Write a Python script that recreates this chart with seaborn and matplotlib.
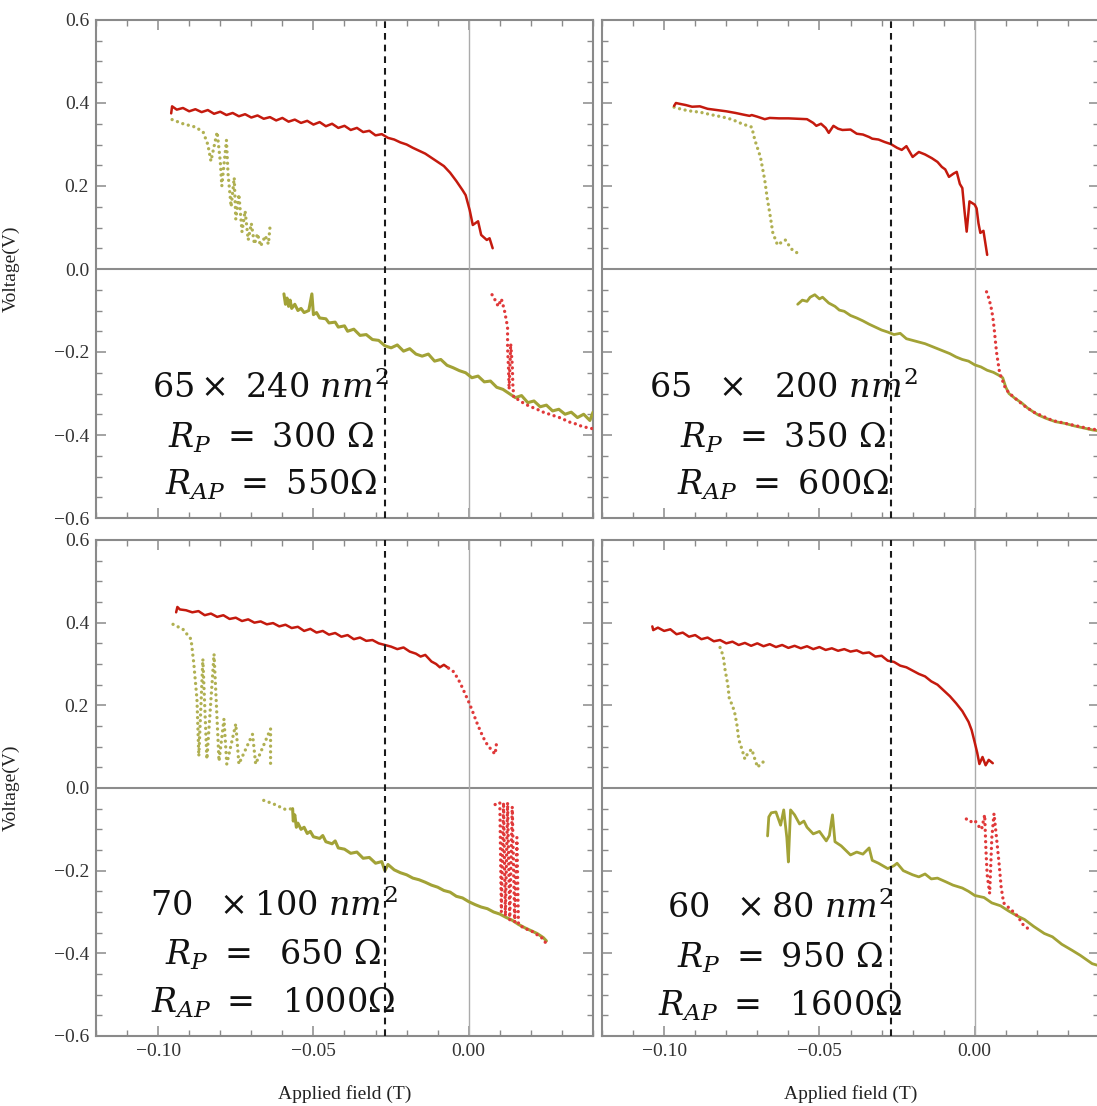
import matplotlib
matplotlib.use("Agg")
import matplotlib.pyplot as plt
from matplotlib.ticker import MultipleLocator, FuncFormatter, FixedLocator
import seaborn as sns
import pandas as pd

# ---------------- data (applied field T, voltage V) ----------------
# Panel 1: 65 x 240 nm^2
p1_red_solid = [(-0.0958,0.375),(-0.0955,0.392),(-0.094,0.384),(-0.092,0.388),(-0.090,0.380),(-0.088,0.385),
    (-0.086,0.378),(-0.084,0.383),(-0.082,0.374),(-0.080,0.379),(-0.078,0.371),(-0.076,0.376),(-0.074,0.368),
    (-0.072,0.373),(-0.070,0.365),(-0.068,0.370),(-0.066,0.362),(-0.064,0.366),(-0.062,0.358),(-0.060,0.364),
    (-0.058,0.355),(-0.056,0.360),(-0.054,0.352),(-0.052,0.357),(-0.050,0.348),(-0.048,0.354),(-0.046,0.344),
    (-0.044,0.350),(-0.042,0.340),(-0.040,0.345),(-0.038,0.335),(-0.036,0.340),(-0.034,0.330),(-0.032,0.333),
    (-0.030,0.322),(-0.028,0.325),(-0.026,0.316),(-0.024,0.312),(-0.022,0.305),(-0.020,0.300),(-0.018,0.292),
    (-0.016,0.285),(-0.014,0.278),(-0.012,0.268),(-0.010,0.258),(-0.008,0.248),(-0.006,0.232),(-0.004,0.212),
    (-0.002,0.190),(-0.001,0.178),(0.0003,0.142),(0.0013,0.106),(0.003,0.115),(0.004,0.082),(0.0058,0.070),
    (0.0067,0.074),(0.0077,0.050)]
p1_olive_dot = [(-0.0955,0.360),(-0.092,0.350),(-0.088,0.342),(-0.0855,0.330),(-0.084,0.300),(-0.083,0.260),
    (-0.081,0.330),(-0.080,0.260),(-0.0795,0.200),(-0.078,0.310),(-0.0775,0.230),(-0.0765,0.150),(-0.0755,0.220),
    (-0.075,0.120),(-0.074,0.180),(-0.073,0.090),(-0.072,0.140),(-0.071,0.070),(-0.070,0.110),(-0.069,0.060),
    (-0.068,0.085),(-0.067,0.055),(-0.0655,0.080),(-0.0645,0.060),(-0.064,0.100)]
p1_olive_solid = [(-0.0595,-0.060),(-0.0590,-0.085),(-0.0585,-0.070),(-0.058,-0.090),(-0.0575,-0.075),
    (-0.057,-0.095),(-0.056,-0.085),(-0.055,-0.100),(-0.054,-0.095),(-0.053,-0.105),(-0.0515,-0.100),
    (-0.0505,-0.060),(-0.050,-0.110),(-0.049,-0.105),(-0.048,-0.118),(-0.046,-0.120),(-0.045,-0.130),
    (-0.043,-0.128),(-0.042,-0.140),(-0.040,-0.137),(-0.039,-0.150),(-0.037,-0.145),(-0.035,-0.160),
    (-0.033,-0.158),(-0.031,-0.170),(-0.029,-0.172),(-0.027,-0.185),(-0.025,-0.190),(-0.023,-0.183),
    (-0.021,-0.198),(-0.019,-0.192),(-0.017,-0.205),(-0.015,-0.210),(-0.013,-0.205),(-0.011,-0.222),
    (-0.009,-0.218),(-0.007,-0.232),(-0.005,-0.238),(-0.003,-0.245),(-0.001,-0.250),(0.001,-0.262),
    (0.003,-0.258),(0.005,-0.272),(0.007,-0.270),(0.009,-0.285),(0.011,-0.290),(0.013,-0.300),(0.015,-0.310),
    (0.017,-0.305),(0.019,-0.322),(0.021,-0.318),(0.023,-0.332),(0.025,-0.328),(0.027,-0.342),(0.029,-0.338),
    (0.031,-0.350),(0.033,-0.345),(0.035,-0.358),(0.037,-0.350),(0.039,-0.365),(0.040,-0.345)]
p1_red_dot = [(0.0075,-0.062),(0.0085,-0.075),(0.0095,-0.090),(0.0105,-0.072),(0.0115,-0.100),(0.0125,-0.140),
    (0.0125,-0.190),(0.0128,-0.240),(0.0130,-0.290),(0.0135,-0.180),(0.0140,-0.230),(0.0142,-0.280),
    (0.0145,-0.310),(0.016,-0.315),(0.018,-0.325),(0.020,-0.332),(0.022,-0.338),(0.024,-0.345),(0.026,-0.350),
    (0.028,-0.355),(0.030,-0.360),(0.032,-0.368),(0.034,-0.372),(0.036,-0.378),(0.038,-0.382),(0.040,-0.385)]

# Panel 2: 65 x 200 nm^2
p2_red_solid = [(-0.0968,0.393),(-0.0962,0.400),(-0.095,0.398),(-0.093,0.395),(-0.091,0.391),(-0.0885,0.392),
    (-0.086,0.386),(-0.083,0.383),(-0.080,0.380),(-0.077,0.376),(-0.0745,0.372),(-0.0725,0.369),(-0.0718,0.371),
    (-0.070,0.367),(-0.0676,0.361),(-0.066,0.364),(-0.063,0.363),(-0.060,0.363),(-0.057,0.362),(-0.054,0.361),
    (-0.052,0.352),(-0.051,0.345),(-0.0495,0.350),(-0.048,0.340),(-0.047,0.328),(-0.0455,0.345),(-0.044,0.338),
    (-0.0426,0.335),(-0.040,0.336),(-0.038,0.326),(-0.036,0.324),(-0.034,0.318),(-0.033,0.314),(-0.031,0.312),
    (-0.029,0.306),(-0.027,0.301),(-0.025,0.292),(-0.0235,0.287),(-0.022,0.296),(-0.020,0.270),(-0.018,0.282),
    (-0.016,0.276),(-0.0138,0.267),(-0.012,0.258),(-0.0106,0.246),(-0.0095,0.240),(-0.0083,0.222),
    (-0.0068,0.230),(-0.0058,0.234),(-0.0048,0.205),(-0.004,0.195),(-0.0033,0.140),(-0.0026,0.090),
    (-0.0017,0.163),(0.0000,0.155),(0.0006,0.146),(0.0012,0.110),(0.0018,0.087),(0.0028,0.092),(0.0040,0.034)]
p2_olive_dot = [(-0.0968,0.390),(-0.094,0.384),(-0.091,0.380),(-0.0885,0.378),(-0.085,0.372),(-0.081,0.366),
    (-0.078,0.360),(-0.075,0.350),(-0.0718,0.342),(-0.0708,0.311),(-0.069,0.270),(-0.0676,0.214),
    (-0.0668,0.170),(-0.066,0.135),(-0.065,0.087),(-0.0635,0.058),(-0.061,0.070),(-0.059,0.048),(-0.057,0.038)]
p2_olive_solid = [(-0.057,-0.085),(-0.0555,-0.075),(-0.054,-0.078),(-0.053,-0.068),(-0.0515,-0.062),
    (-0.050,-0.072),(-0.049,-0.068),(-0.047,-0.082),(-0.045,-0.090),(-0.0436,-0.099),(-0.042,-0.102),
    (-0.040,-0.112),(-0.038,-0.118),(-0.036,-0.125),(-0.034,-0.133),(-0.032,-0.140),(-0.030,-0.147),
    (-0.028,-0.152),(-0.026,-0.158),(-0.024,-0.155),(-0.022,-0.168),(-0.020,-0.172),(-0.018,-0.176),
    (-0.016,-0.180),(-0.014,-0.186),(-0.012,-0.192),(-0.010,-0.198),(-0.008,-0.204),(-0.006,-0.212),
    (-0.004,-0.218),(-0.002,-0.222),(0.000,-0.231),(0.002,-0.236),(0.004,-0.244),(0.006,-0.249),
    (0.0075,-0.255),(0.009,-0.262),(0.010,-0.285),(0.011,-0.300),(0.013,-0.312),(0.015,-0.322),
    (0.017,-0.335),(0.019,-0.345),(0.0205,-0.352),(0.023,-0.360),(0.026,-0.368),(0.029,-0.372),
    (0.032,-0.378),(0.035,-0.383),(0.038,-0.388),(0.040,-0.390)]
p2_red_dot = [(0.0038,-0.055),(0.0045,-0.070),(0.0052,-0.090),(0.0058,-0.115),(0.0062,-0.140),(0.0066,-0.170),
    (0.0070,-0.200),(0.0075,-0.225),(0.0080,-0.250),(0.0090,-0.270),(0.0100,-0.290),(0.012,-0.305),
    (0.014,-0.318),(0.016,-0.330),(0.019,-0.345),(0.022,-0.355),(0.025,-0.365),(0.028,-0.370),(0.031,-0.375),
    (0.034,-0.380),(0.037,-0.385),(0.040,-0.388)]

# Panel 3: 70 x 100 nm^2
p3_red_solid = [(-0.0942,0.425),(-0.0938,0.438),(-0.093,0.432),(-0.091,0.430),(-0.089,0.425),(-0.087,0.428),
    (-0.085,0.418),(-0.083,0.422),(-0.081,0.414),(-0.079,0.418),(-0.077,0.409),(-0.075,0.412),(-0.073,0.404),
    (-0.071,0.408),(-0.069,0.400),(-0.067,0.403),(-0.065,0.396),(-0.063,0.399),(-0.061,0.391),(-0.059,0.395),
    (-0.057,0.387),(-0.055,0.390),(-0.053,0.380),(-0.051,0.385),(-0.049,0.376),(-0.047,0.380),(-0.045,0.371),
    (-0.043,0.375),(-0.041,0.366),(-0.039,0.370),(-0.037,0.360),(-0.035,0.364),(-0.033,0.356),(-0.031,0.358),
    (-0.029,0.350),(-0.027,0.346),(-0.025,0.342),(-0.023,0.336),(-0.021,0.340),(-0.019,0.330),(-0.017,0.325),
    (-0.0155,0.318),(-0.014,0.322),(-0.012,0.306),(-0.0105,0.300),(-0.0093,0.292),(-0.008,0.298),
    (-0.0065,0.290)]
p3_red_dot_up = [(-0.0065,0.290),(-0.005,0.282),(-0.0035,0.265),(-0.0022,0.245),(-0.001,0.225),(0.0003,0.203),
    (0.0015,0.180),(0.0025,0.160),(0.0035,0.142),(0.0045,0.125),(0.0055,0.110),(0.0065,0.100),(0.0075,0.090),
    (0.0085,0.082),(0.0090,0.112)]
p3_olive_dot = [(-0.0952,0.396),(-0.092,0.384),(-0.0894,0.360),(-0.0885,0.300),(-0.0875,0.215),(-0.0869,0.077),
    (-0.0856,0.312),(-0.0843,0.070),(-0.0820,0.324),(-0.0804,0.065),(-0.0788,0.167),(-0.0779,0.058),
    (-0.0750,0.155),(-0.0740,0.058),(-0.0696,0.130),(-0.0686,0.058),(-0.0638,0.143),(-0.0638,0.058)]
p3_olive_dot_low = [(-0.066,-0.030),(-0.063,-0.038),(-0.061,-0.045),(-0.059,-0.052),(-0.0567,-0.050)]
p3_olive_solid = [(-0.0567,-0.050),(-0.0565,-0.080),(-0.0560,-0.065),(-0.0555,-0.095),(-0.055,-0.085),
    (-0.054,-0.100),(-0.053,-0.095),(-0.052,-0.110),(-0.051,-0.105),(-0.050,-0.118),(-0.048,-0.122),
    (-0.047,-0.115),(-0.046,-0.130),(-0.044,-0.135),(-0.043,-0.128),(-0.042,-0.145),(-0.040,-0.148),
    (-0.038,-0.158),(-0.036,-0.155),(-0.034,-0.170),(-0.032,-0.168),(-0.030,-0.182),(-0.028,-0.178),
    (-0.027,-0.200),(-0.026,-0.185),(-0.024,-0.198),(-0.022,-0.205),(-0.020,-0.210),(-0.018,-0.218),
    (-0.016,-0.222),(-0.014,-0.228),(-0.012,-0.235),(-0.010,-0.240),(-0.008,-0.248),(-0.006,-0.252),
    (-0.004,-0.262),(-0.002,-0.266),(0.000,-0.275),(0.002,-0.282),(0.004,-0.288),(0.006,-0.292),
    (0.008,-0.300),(0.010,-0.305),(0.012,-0.313),(0.014,-0.320),(0.016,-0.330),(0.018,-0.338),
    (0.020,-0.345),(0.022,-0.352),(0.024,-0.362),(0.025,-0.370)]
p3_red_dot = [(0.0085,-0.040),(0.0100,-0.035),(0.0105,-0.300),(0.0112,-0.035),(0.0118,-0.310),(0.0125,-0.035),
    (0.0132,-0.320),(0.0140,-0.045),(0.0148,-0.325),(0.0155,-0.120),(0.0160,-0.330),(0.018,-0.340),
    (0.020,-0.345),(0.022,-0.355),(0.024,-0.365),(0.025,-0.378)]

# Panel 4: 60 x 80 nm^2
p4_red_solid = [(-0.1038,0.391),(-0.1035,0.382),(-0.102,0.388),(-0.100,0.380),(-0.098,0.384),(-0.096,0.372),
    (-0.094,0.376),(-0.092,0.366),(-0.090,0.370),(-0.088,0.360),(-0.086,0.364),(-0.084,0.355),(-0.082,0.358),
    (-0.080,0.350),(-0.078,0.354),(-0.076,0.346),(-0.074,0.351),(-0.072,0.344),(-0.070,0.350),(-0.068,0.343),
    (-0.066,0.348),(-0.064,0.341),(-0.062,0.346),(-0.060,0.339),(-0.058,0.344),(-0.056,0.338),(-0.054,0.343),
    (-0.052,0.336),(-0.050,0.341),(-0.048,0.334),(-0.046,0.338),(-0.044,0.332),(-0.042,0.336),(-0.040,0.330),
    (-0.038,0.333),(-0.036,0.326),(-0.034,0.328),(-0.032,0.318),(-0.030,0.320),(-0.028,0.308),(-0.026,0.305),
    (-0.024,0.296),(-0.022,0.292),(-0.020,0.284),(-0.018,0.276),(-0.016,0.270),(-0.014,0.258),(-0.012,0.250),
    (-0.010,0.236),(-0.008,0.222),(-0.006,0.205),(-0.004,0.186),(-0.002,0.160),(-0.001,0.140),(0.000,0.110),
    (0.0008,0.085),(0.0015,0.058),(0.0025,0.075),(0.0035,0.055),(0.0045,0.068),(0.0058,0.060)]
p4_olive_dot = [(-0.0820,0.340),(-0.0810,0.320),(-0.0804,0.287),(-0.0795,0.250),(-0.0790,0.215),(-0.0780,0.200),
    (-0.0772,0.179),(-0.0765,0.150),(-0.0760,0.118),(-0.0750,0.095),(-0.0740,0.070),(-0.0730,0.085),
    (-0.0718,0.094),(-0.0708,0.070),(-0.0699,0.050),(-0.0688,0.060),(-0.0676,0.065)]
p4_olive_solid = [(-0.0667,-0.116),(-0.0663,-0.070),(-0.0655,-0.060),(-0.064,-0.058),(-0.0625,-0.090),
    (-0.0615,-0.053),(-0.0605,-0.120),(-0.0600,-0.179),(-0.0593,-0.053),(-0.058,-0.065),(-0.0564,-0.087),
    (-0.055,-0.080),(-0.054,-0.095),(-0.052,-0.111),(-0.050,-0.105),(-0.0478,-0.128),(-0.0468,-0.115),
    (-0.0458,-0.065),(-0.0450,-0.130),(-0.043,-0.140),(-0.040,-0.162),(-0.038,-0.155),(-0.036,-0.160),
    (-0.034,-0.145),(-0.033,-0.175),(-0.031,-0.182),(-0.028,-0.195),(-0.026,-0.188),(-0.025,-0.182),
    (-0.023,-0.200),(-0.020,-0.210),(-0.018,-0.215),(-0.016,-0.208),(-0.014,-0.220),(-0.012,-0.218),
    (-0.0093,-0.227),(-0.007,-0.235),(-0.004,-0.242),(-0.002,-0.250),(0.000,-0.260),(0.003,-0.265),
    (0.0055,-0.278),(0.0083,-0.285),(0.011,-0.298),(0.0138,-0.310),(0.016,-0.318),(0.019,-0.335),
    (0.0224,-0.352),(0.025,-0.360),(0.028,-0.378),(0.0314,-0.393),(0.034,-0.405),(0.0378,-0.425),(0.040,-0.430)]
p4_red_dot = [(-0.0027,-0.075),(-0.0015,-0.082),(0.0000,-0.078),(0.0011,-0.091),(0.0022,-0.100),(0.0032,-0.065),
    (0.0036,-0.150),(0.0040,-0.210),(0.0048,-0.255),(0.0055,-0.120),(0.0062,-0.062),(0.0070,-0.120),
    (0.0078,-0.180),(0.0085,-0.240),(0.0093,-0.278),(0.0110,-0.290),(0.0125,-0.300),(0.0138,-0.310),
    (0.0155,-0.330),(0.0176,-0.343)]

labels_p1 = [r"$65\times\ 240\ nm^2$", r"$R_P\ =\ 300\ \Omega$", r"$R_{AP}\ =\ 550\Omega$"]
labels_p2 = [r"$65\ \ \times\ \ 200\ nm^2$", r"$R_P\ =\ 350\ \Omega$", r"$R_{AP}\ =\ 600\Omega$"]
labels_p3 = [r"$70\ \ \times 100\ nm^2$", r"$R_P\ =\ \ 650\ \Omega$", r"$R_{AP}\ =\ \ 1000\Omega$"]
labels_p4 = [r"$60\ \ \times 80\ nm^2$", r"$R_P\ =\ 950\ \Omega$", r"$R_{AP}\ =\ \ 1600\Omega$"]

x_label = "Applied field (T)"
y_label = "Voltage(V)"
dashed_x = -0.027

# ---------------- styling ----------------
sns.set_style("white")
plt.rcParams["font.family"] = ["Liberation Serif", "DejaVu Serif"]
plt.rcParams["mathtext.fontset"] = "dejavuserif"

RED = "#c41a0e"
RED_DOT = "#e0393a"
OLIVE = "#a2a236"
OLIVE_DOT = "#b0b052"
SPINE = "#8a8a8a"
DOTS = (0, (0.01, 1.7))

fig = plt.figure(figsize=(10.97, 11.06), dpi=100)
W, H = 1097.0, 1106.0

def make_ax(x0, y_top, x1, y_bot):
    return fig.add_axes([x0 / W, 1 - y_bot / H, (x1 - x0) / W, (y_bot - y_top) / H])

ax1 = make_ax(96, 20, 593, 518)
ax2 = make_ax(602, 20, 1099, 518)
ax3 = make_ax(96, 540, 593, 1036)
ax4 = make_ax(602, 540, 1099, 1036)

def minus_fmt(fmt):
    return FuncFormatter(lambda v, p: (fmt % v).replace("-", "\u2212"))

def draw(ax, series, labels, baselines, xc, show_x, show_y):
    ax.set_xlim(-0.12, 0.04)
    ax.set_ylim(-0.6, 0.6)
    ax.axhline(0, color="#8c8c8c", lw=1.5, zorder=1)
    ax.axvline(0, color="#ababab", lw=1.0, zorder=1)
    ax.axvline(dashed_x, color="#1a1a1a", lw=1.5, ls=(0, (3.2, 2.4)), zorder=4)
    for pts, col, ls, lw in series:
        df = pd.DataFrame(pts, columns=["x", "y"])
        sns.lineplot(data=df, x="x", y="y", sort=False, estimator=None, ax=ax,
                     color=col, linestyle=ls, lw=lw, dash_capstyle="round",
                     solid_joinstyle="round", zorder=3)
    for txt, yb in zip(labels, baselines):
        ax.text(xc, yb, txt, transform=ax.transAxes, ha="center", va="baseline",
                fontsize=24, color="#111111", zorder=5)
    ax.xaxis.set_major_locator(FixedLocator([-0.10, -0.05, 0.00]))
    ax.xaxis.set_minor_locator(MultipleLocator(0.01))
    ax.yaxis.set_major_locator(MultipleLocator(0.2))
    ax.yaxis.set_minor_locator(MultipleLocator(0.05))
    ax.xaxis.set_major_formatter(minus_fmt("%.2f"))
    ax.yaxis.set_major_formatter(minus_fmt("%.1f"))
    ax.tick_params(which="both", direction="in", top=True, right=True, bottom=True, left=True,
                   color=SPINE, labelsize=14, labelcolor="#333333", pad=5)
    ax.tick_params(which="major", length=7, width=1.1)
    ax.tick_params(which="minor", length=4, width=1.0)
    ax.tick_params(labelbottom=show_x, labelleft=show_y)
    for s in ax.spines.values():
        s.set_color(SPINE)
        s.set_linewidth(1.5)
    ax.set_xlabel(x_label if show_x else "", fontsize=14, color="#222222")
    ax.set_ylabel(y_label if show_y else "", fontsize=14, color="#222222")
    if show_x:
        ax.xaxis.set_label_coords(0.5, -0.098)
    if show_y:
        ax.yaxis.set_label_coords(-0.153, 0.5)

draw(ax1, [(p1_olive_dot, OLIVE_DOT, DOTS, 2.4), (p1_red_solid, RED, "-", 1.8),
           (p1_olive_solid, OLIVE, "-", 2.2), (p1_red_dot, RED_DOT, DOTS, 2.4)],
     labels_p1, [0.241, 0.141, 0.046], 0.352, False, True)
draw(ax2, [(p2_olive_dot, OLIVE_DOT, DOTS, 2.4), (p2_red_solid, RED, "-", 1.8),
           (p2_olive_solid, OLIVE, "-", 2.0), (p2_red_dot, RED_DOT, DOTS, 2.4)],
     labels_p2, [0.241, 0.141, 0.046], 0.365, False, False)
draw(ax3, [(p3_olive_dot, OLIVE_DOT, DOTS, 2.4), (p3_red_solid, RED, "-", 1.8),
           (p3_red_dot_up, RED_DOT, DOTS, 2.4), (p3_olive_dot_low, OLIVE_DOT, DOTS, 2.4),
           (p3_olive_solid, OLIVE, "-", 2.2), (p3_red_dot, RED_DOT, DOTS, 2.4)],
     labels_p3, [0.242, 0.143, 0.048], 0.357, True, True)
draw(ax4, [(p4_olive_dot, OLIVE_DOT, DOTS, 2.4), (p4_red_solid, RED, "-", 1.8),
           (p4_olive_solid, OLIVE, "-", 2.0), (p4_red_dot, RED_DOT, DOTS, 2.4)],
     labels_p4, [0.238, 0.137, 0.042], 0.358, True, False)

fig.savefig("out.png", dpi=100)
